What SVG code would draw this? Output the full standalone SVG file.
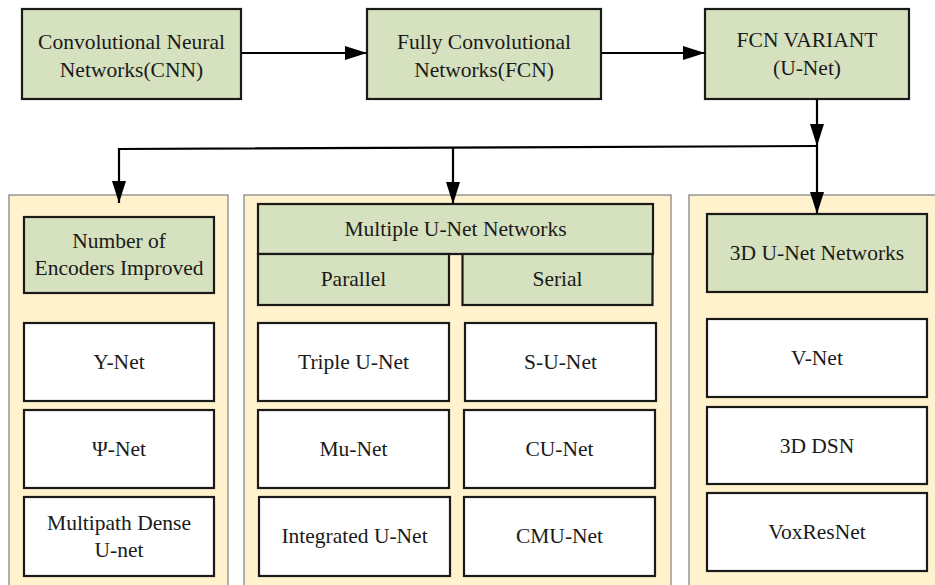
<svg xmlns="http://www.w3.org/2000/svg" width="935" height="585" viewBox="0 0 935 585">
<style>
.node{stroke:#1a1a1a;stroke-width:2.2}
.g{fill:#d6e1bf}
.w{fill:#ffffff}
.cont{fill:#fff2cc;stroke:#7f7f7f;stroke-width:1.2}
text{font-family:'Liberation Serif','Times New Roman',serif;font-size:21.5px;fill:#1a1a1a;text-anchor:middle}
.conn{stroke:#000;stroke-width:2.2;fill:none}
</style>
<defs>
<marker id="ah" markerUnits="userSpaceOnUse" markerWidth="22" markerHeight="14" refX="22" refY="7" orient="auto" viewBox="0 0 22 14">
<path d="M0,0 L22,7 L0,14 z" fill="#000"/>
</marker>
</defs>
<rect width="935" height="585" fill="#ffffff"/>
<g id="containers">
<rect class="cont" x="9" y="195" width="219" height="400"/>
<rect class="cont" x="244" y="195" width="427" height="400"/>
<rect class="cont" x="689" y="195" width="260" height="400"/>
</g>
<g id="cnn"><rect class="node g" x="22" y="9" width="219" height="90"/><text x="131.5" y="49">Convolutional Neural</text><text x="131.5" y="77">Networks(CNN)</text></g>
<g id="fcn"><rect class="node g" x="367" y="9" width="234" height="90"/><text x="484" y="49">Fully Convolutional</text><text x="484" y="77">Networks(FCN)</text></g>
<g id="unet"><rect class="node g" x="705" y="9" width="204" height="90"/><text x="807" y="47">FCN VARIANT</text><text x="807" y="75">(U-Net)</text></g>
<g id="encoders"><rect class="node g" x="24" y="217" width="190" height="76"/><text x="119" y="248">Number of</text><text x="119" y="275">Encoders Improved</text></g>
<g id="ynet"><rect class="node w" x="24" y="323" width="190" height="78"/><text x="119" y="369">Y-Net</text></g>
<g id="psinet"><rect class="node w" x="24" y="410" width="190" height="78"/><text x="119" y="456">Ψ-Net</text></g>
<g id="multipath"><rect class="node w" x="24" y="497" width="190" height="79"/><text x="119" y="530">Multipath Dense</text><text x="119" y="557">U-net</text></g>
<g id="multiple"><rect class="node g" x="258" y="204" width="395" height="50"/><text x="455.5" y="236">Multiple U-Net Networks</text></g>
<g id="parallel"><rect class="node g" x="258" y="254" width="191" height="51"/><text x="353.5" y="286">Parallel</text></g>
<g id="serial"><rect class="node g" x="462.5" y="254" width="190" height="51"/><text x="557.5" y="286">Serial</text></g>
<g id="triple"><rect class="node w" x="258" y="323" width="191" height="78"/><text x="353.5" y="369">Triple U-Net</text></g>
<g id="munet"><rect class="node w" x="258" y="410" width="191" height="78"/><text x="353.5" y="456">Mu-Net</text></g>
<g id="integrated"><rect class="node w" x="259" y="497" width="191" height="79"/><text x="354.5" y="543">Integrated U-Net</text></g>
<g id="sunet"><rect class="node w" x="465" y="323" width="191" height="78"/><text x="560.5" y="369">S-U-Net</text></g>
<g id="cunet"><rect class="node w" x="464" y="410" width="191" height="78"/><text x="559.5" y="456">CU-Net</text></g>
<g id="cmunet"><rect class="node w" x="464" y="497" width="191" height="79"/><text x="559.5" y="543">CMU-Net</text></g>
<g id="unet3d"><rect class="node g" x="707" y="214" width="220" height="78"/><text x="817" y="260">3D U-Net Networks</text></g>
<g id="vnet"><rect class="node w" x="707" y="319" width="220" height="78"/><text x="817" y="365">V-Net</text></g>
<g id="dsn"><rect class="node w" x="707" y="407" width="220" height="77"/><text x="817" y="453">3D DSN</text></g>
<g id="voxres"><rect class="node w" x="707" y="493" width="220" height="78"/><text x="817" y="539">VoxResNet</text></g>
<g id="connectors">
<line class="conn" x1="241" y1="53" x2="367" y2="53" marker-end="url(#ah)"/>
<line class="conn" x1="601" y1="53" x2="705" y2="53" marker-end="url(#ah)"/>
<line class="conn" x1="817" y1="99" x2="817" y2="146" marker-end="url(#ah)"/>
<polyline class="conn" points="817,146 119,149 119,203" marker-end="url(#ah)"/>
<line class="conn" x1="453" y1="147.5" x2="453" y2="204" marker-end="url(#ah)"/>
<line class="conn" x1="817" y1="146" x2="817" y2="214" marker-end="url(#ah)"/>
</g>
</svg>
